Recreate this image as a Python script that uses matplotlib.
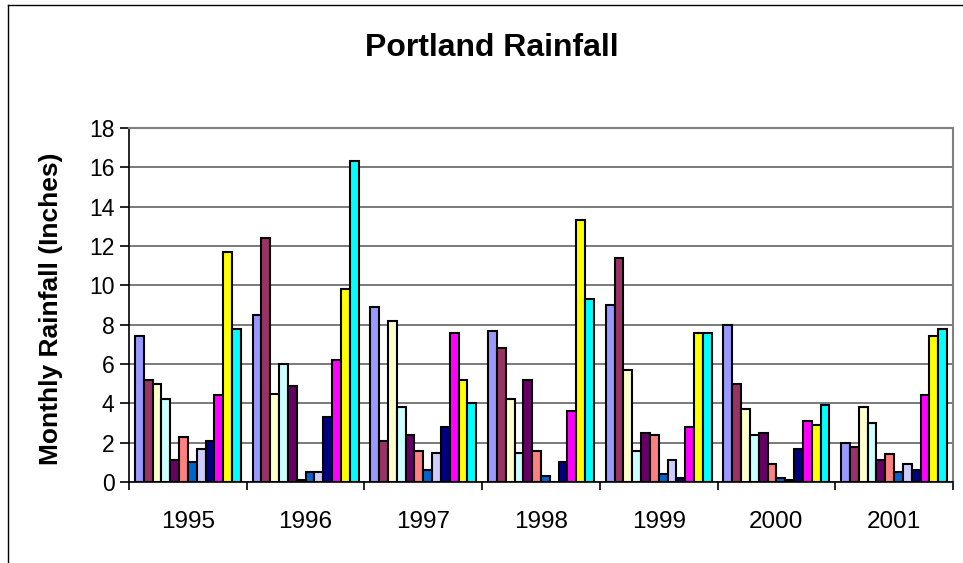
import numpy as np
import matplotlib.pyplot as plt
from matplotlib.lines import Line2D

plt.rcParams['font.family'] = ['Liberation Sans', 'DejaVu Sans']

years = ['1995', '1996', '1997', '1998', '1999', '2000', '2001']
months = ['Jan', 'Feb', 'Mar', 'Apr', 'May', 'Jun',
          'Jul', 'Aug', 'Sep', 'Oct', 'Nov', 'Dec']

# monthly rainfall (inches), one row per year
rain_1995 = [7.4, 5.2, 5.0, 4.2, 1.1, 2.3, 1.0, 1.7, 2.1, 4.4, 11.7, 7.8]
rain_1996 = [8.5, 12.4, 4.5, 6.0, 4.9, 0.1, 0.5, 0.5, 3.3, 6.2, 9.8, 16.3]
rain_1997 = [8.9, 2.1, 8.2, 3.8, 2.4, 1.6, 0.6, 1.5, 2.8, 7.6, 5.2, 4.0]
rain_1998 = [7.7, 6.8, 4.2, 1.5, 5.2, 1.6, 0.3, 0.0, 1.0, 3.6, 13.3, 9.3]
rain_1999 = [9.0, 11.4, 5.7, 1.6, 2.5, 2.4, 0.4, 1.1, 0.2, 2.8, 7.6, 7.6]
rain_2000 = [8.0, 5.0, 3.7, 2.4, 2.5, 0.9, 0.2, 0.1, 1.7, 3.1, 2.9, 3.9]
rain_2001 = [2.0, 1.8, 3.8, 3.0, 1.1, 1.4, 0.5, 0.9, 0.6, 4.4, 7.4, 7.8]

colors = ['#9999FF', '#993366', '#FFFFCC', '#CCFFFF', '#660066', '#FF8080',
          '#0066CC', '#CCCCFF', '#000080', '#FF00FF', '#FFFF00', '#00FFFF']

data = np.array([rain_1995, rain_1996, rain_1997, rain_1998,
                 rain_1999, rain_2000, rain_2001])

fig = plt.figure(figsize=(9.63, 5.63), dpi=100)
ax = fig.add_axes([129 / 963, 1 - 482 / 563, 824 / 963, 354 / 563])

x = np.arange(len(years))
w = 0.9 / 12
for j in range(12):
    ax.bar(x + (j - 5.5) * w, data[:, j], width=w, color=colors[j],
           edgecolor='black', linewidth=1.5, label=months[j], zorder=3)

ax.set_xlim(-0.5, 6.5)
ax.set_ylim(0, 18)
ax.set_yticks(np.arange(0, 19, 2))
ax.yaxis.grid(True, color='#707070', linewidth=1.3, zorder=0)
ax.set_xticks(np.arange(-0.5, 7, 1))
ax.set_xticklabels([])
ax.set_xticks(x, minor=True)
ax.set_xticklabels(years, minor=True)
ax.tick_params(axis='x', which='major', direction='out', length=6, width=1.2)
ax.tick_params(axis='x', which='minor', length=0, pad=21, labelsize=17.5)
ax.tick_params(axis='y', direction='out', length=6.5, width=1.2, labelsize=16.5, pad=4)

for s in ['top', 'right']:
    ax.spines[s].set_color('#808080')
    ax.spines[s].set_linewidth(1.5)
for s in ['left', 'bottom']:
    ax.spines[s].set_color('black')
    ax.spines[s].set_linewidth(1.2)

ax.set_ylabel('Monthly Rainfall (Inches)', fontsize=19, fontweight='bold')
ax.yaxis.set_label_coords((63 - 129) / 824, 0.49)
fig.text(492 / 963, 1 - 48 / 563, 'Portland Rainfall', ha='center',
         va='center', fontsize=23, fontweight='bold')

# chart area border (left and top only visible)
fig.add_artist(Line2D([8 / 963, 8 / 963], [0, 1 - 5 / 563], color='black', lw=1))
fig.add_artist(Line2D([8 / 963, 1], [1 - 5 / 563, 1 - 5 / 563], color='black', lw=1))

fig.savefig('out.png', dpi=100)
